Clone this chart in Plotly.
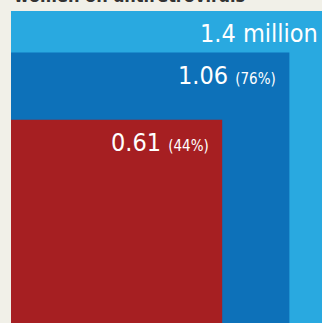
import math
import plotly.graph_objects as go

# Data
labels = ["1.4 million", "1.06", "0.61"]
values = [1.4, 1.06, 0.61]
pct_labels = ["", "(76%)", "(44%)"]
colors = ["#29A9E0", "#0D71B9", "#A61F22"]
title_text = "women on antiretrovirals"

W, H = 322, 323
scale = 270.4  # px per sqrt-unit
x0_px, y0_px = 11, 331
xr = [-x0_px / scale, (W - x0_px) / scale]
yr = [(y0_px - H) / scale, y0_px / scale]

FONT = "DejaVu Sans Condensed, Roboto Condensed, Roboto"

fig = go.Figure()
for v, c in zip(values, colors):
    s = math.sqrt(v)
    fig.add_trace(go.Scatter(
        x=[0, s, s, 0, 0], y=[0, 0, s, s, 0],
        fill="toself", fillcolor=c, mode="lines",
        line=dict(width=0, color=c), hoverinfo="skip", showlegend=False,
        cliponaxis=True))

pad = 11 / scale
for v, lab, pl in zip(values, labels, pct_labels):
    s = math.sqrt(v)
    txt = f"{lab}" + (f" <span style='font-size:15px'>{pl}</span>" if pl else "")
    fig.add_annotation(x=s - pad, y=s - 6 / scale, xref="x", yref="y",
                       text=txt, showarrow=False, xanchor="right", yanchor="top",
                       font=dict(family=FONT, size=25, color="white"))

fig.add_annotation(x=12 / W, y=1 - 8 / H, xref="paper", yref="paper",
                   text=f"<b>{title_text}</b>", showarrow=False,
                   xanchor="left", yanchor="bottom",
                   font=dict(family=FONT, size=18, color="#333333"))

fig.update_layout(
    width=W, height=H, margin=dict(l=0, r=0, t=0, b=0),
    paper_bgcolor="#F1F0E8", plot_bgcolor="#F1F0E8",
    xaxis=dict(range=xr, visible=False, fixedrange=True),
    yaxis=dict(range=yr, visible=False, fixedrange=True),
)
fig.write_html("out.html", config={"displayModeBar": False})
